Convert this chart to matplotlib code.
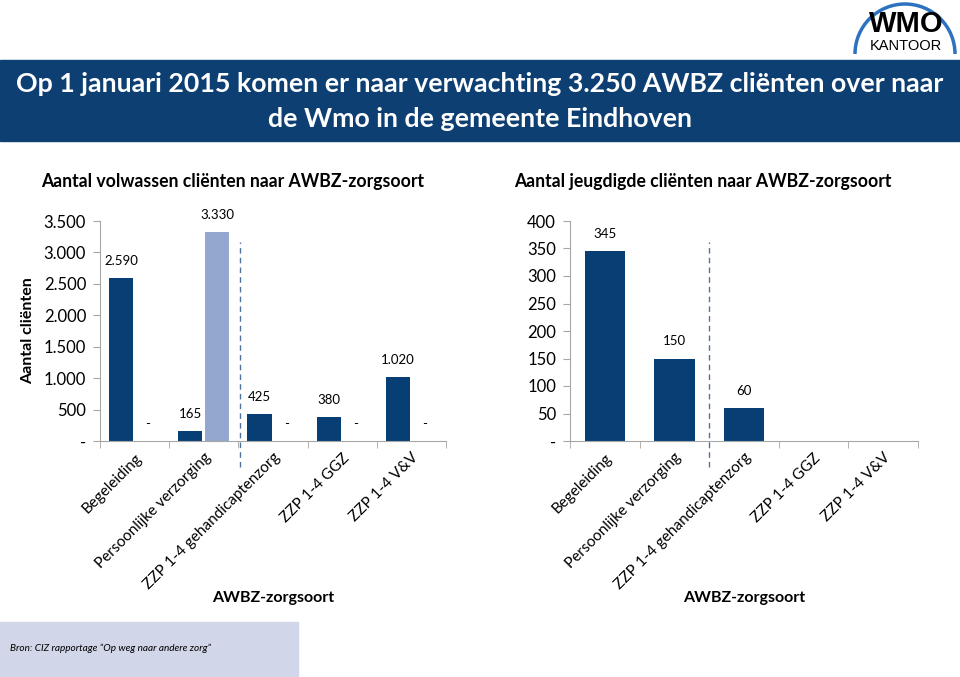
import matplotlib
matplotlib.use("Agg")
import matplotlib.pyplot as plt
from matplotlib.patches import Rectangle, Arc
import numpy as np

plt.rcParams["font.family"] = ["Lato", "DejaVu Sans"]

categories = ["Begeleiding", "Persoonlijke verzorging", "ZZP 1-4 gehandicaptenzorg",
              "ZZP 1-4 GGZ", "ZZP 1-4 V&V"]
volwassen_a = [2590, 165, 425, 380, 1020]
volwassen_b = [0, 3330, 0, 0, 0]
jeugd = [345, 150, 60, 0, 0]

left_ticks = [0, 500, 1000, 1500, 2000, 2500, 3000, 3500]
right_ticks = [0, 50, 100, 150, 200, 250, 300, 350, 400]

DARK = "#073f74"
LIGHT = "#94a8cf"
AXIS = "#a6a6a6"
W, H = 960, 677


def nl(v):
    if v == 0:
        return "-"
    return f"{v:,}".replace(",", ".")


def style_axis(ax, ticks, ymax):
    ax.set_xlim(-0.5, len(categories) - 0.5)
    ax.set_ylim(0, ymax)
    ax.set_yticks(ticks)
    ax.set_yticklabels([nl(t) for t in ticks], fontsize=12)
    ax.set_xticks(np.arange(len(categories)))
    ax.set_xticklabels(categories, rotation=45, ha="right", rotation_mode="anchor", fontsize=11)
    ax.tick_params(axis="x", length=0, pad=7)
    ax.set_xticks(np.arange(len(categories) + 1) - 0.5, minor=True)
    ax.tick_params(axis="x", which="minor", length=5, color=AXIS)
    ax.tick_params(axis="y", length=5, color=AXIS, pad=5)
    for s in ["top", "right"]:
        ax.spines[s].set_visible(False)
    for s in ["left", "bottom"]:
        ax.spines[s].set_color(AXIS)
    ax.set_xlabel("AWBZ-zorgsoort", fontsize=11.5, fontweight="bold", labelpad=-1)


fig = plt.figure(figsize=(W / 100, H / 100), dpi=100)

# left chart
ax1 = fig.add_axes([100 / W, 236 / H, 346 / W, 220 / H])
x = np.arange(len(categories))
bw = 0.35
ax1.bar(x - 0.195, volwassen_a, bw, color=DARK)
ax1.bar(x + 0.195, volwassen_b, bw, color=LIGHT)
for xi, v in zip(x, volwassen_a):
    ax1.annotate(nl(v), (xi - 0.195, v), xytext=(0, 8), textcoords="offset points",
                 ha="center", va="bottom", fontsize=9.5)
for xi, v in zip(x, volwassen_b):
    ax1.annotate(nl(v), (xi + 0.195, v), xytext=(0, 8), textcoords="offset points",
                 ha="center", va="bottom", fontsize=9.5)
style_axis(ax1, left_ticks, 3500)
ax1.axvline(1.52, ymin=-0.12, ymax=0.905, clip_on=False, color="#4f739e",
            lw=1, dashes=(4, 3))
ax1.set_ylabel("Aantal cliënten", fontsize=11.5, fontweight="bold", labelpad=6)

# right chart
ax2 = fig.add_axes([570 / W, 236 / H, 348 / W, 220 / H])
ax2.bar(x, jeugd, 0.58, color=DARK)
for xi, v in zip(x, jeugd):
    if v:
        ax2.annotate(nl(v), (xi, v), xytext=(0, 8), textcoords="offset points",
                     ha="center", va="bottom", fontsize=9.5)
style_axis(ax2, right_ticks, 400)
ax2.axvline(1.5, ymin=-0.12, ymax=0.905, clip_on=False, color="#4f739e",
            lw=1, dashes=(4, 3))

# overlay in pixel coords for header, logo, footer
ov = fig.add_axes([0, 0, 1, 1], zorder=-1)
ov.set_xlim(0, W)
ov.set_ylim(H, 0)
ov.axis("off")
ov.add_patch(Rectangle((0, 60), W, 81, color="#0e3f72"))
ov.text(480, 84, "Op 1 januari 2015 komen er naar verwachting 3.250 AWBZ cliënten over naar",
        color="white", fontsize=19.3, fontweight="bold", ha="center", va="center")
ov.text(480, 119, "de Wmo in de gemeente Eindhoven",
        color="white", fontsize=19.3, fontweight="bold", ha="center", va="center")
ov.text(233, 181, "Aantal volwassen cliënten naar AWBZ-zorgsoort",
        fontsize=12.7, fontweight="bold", ha="center", va="center")
ov.text(703, 181, "Aantal jeugdigde cliënten naar AWBZ-zorgsoort",
        fontsize=12.7, fontweight="bold", ha="center", va="center")

# logo
ov.add_patch(Arc((905, 54), 100, 100, theta1=180, theta2=360, color="#2d72c0", lw=2.5))
ov.text(906, 24, "WMO", fontsize=21, fontweight="heavy", ha="center", va="center",
        family=["Liberation Sans", "DejaVu Sans"])
ov.text(906, 46, "KANTOOR", fontsize=10.5, ha="center", va="center",
        family=["Liberation Sans", "DejaVu Sans"])

# footer
ov.add_patch(Rectangle((0, 622), 298, 55, color="#d1d6e8"))
ov.text(10, 648, "Bron: CIZ rapportage \u201cOp weg naar andere zorg\u201d",
        fontsize=7.2, style="italic", ha="left", va="center")

fig.savefig("out.png", dpi=100)
